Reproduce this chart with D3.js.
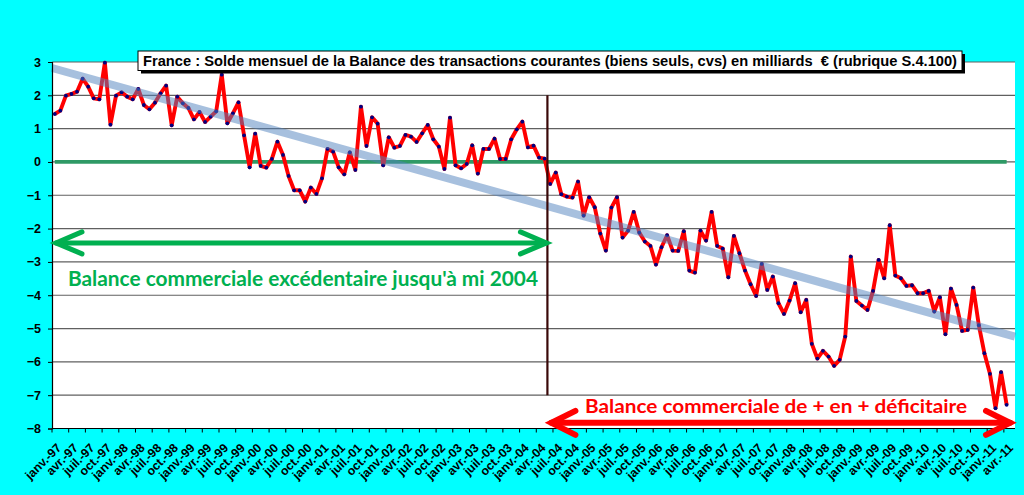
<!DOCTYPE html>
<html><head><meta charset="utf-8">
<script src="https://cdn.jsdelivr.net/npm/d3@7/dist/d3.min.js"></script>
<style>
html,body{margin:0;padding:0;background:#00ffff;}
svg{display:block;}
</style></head>
<body>
<svg id="c" width="1024" height="495"></svg>
<script>
// ---------- DATA ----------
const monthNames = ["janv.","févr.","mars","avr.","mai","juin","juil.","août","sept.","oct.","nov.","déc."];
const startYear = 1997;
const axisMonthCount = 173; // janv.-97 .. mai-11 on the category axis
const values = [
  1.44,1.54,1.99,2.04,2.11,2.50,2.26,1.91,1.88,2.98,1.12,1.99,
  2.09,1.96,1.88,2.19,1.71,1.58,1.78,2.06,2.29,1.10,1.96,1.76,
  1.62,1.28,1.50,1.20,1.36,1.52,2.62,1.16,1.46,1.79,0.80,-0.16,
  0.85,-0.12,-0.17,0.09,0.61,0.21,-0.42,-0.85,-0.85,-1.19,-0.77,-0.96,
  -0.49,0.39,0.31,-0.16,-0.37,0.29,-0.24,1.66,0.48,1.34,1.15,-0.10,
  0.74,0.43,0.48,0.81,0.76,0.60,0.86,1.11,0.68,0.46,-0.21,1.33,
  -0.10,-0.19,-0.06,0.50,-0.35,0.39,0.39,0.70,0.09,0.09,0.68,0.98,
  1.21,0.44,0.49,0.13,0.10,-0.66,-0.32,-0.97,-1.04,-1.07,-0.59,-1.61,
  -1.06,-1.36,-2.15,-2.66,-1.37,-1.06,-2.27,-2.06,-1.50,-2.12,-2.39,-2.52,
  -3.08,-2.56,-2.20,-2.66,-2.67,-2.08,-3.26,-3.32,-2.06,-2.36,-1.50,-2.52,
  -2.60,-3.46,-2.22,-2.74,-3.26,-3.67,-4.02,-3.06,-3.84,-3.44,-4.24,-4.56,
  -4.16,-3.64,-4.51,-4.14,-5.46,-5.90,-5.67,-5.84,-6.12,-5.94,-5.24,-2.84,
  -4.17,-4.31,-4.44,-3.87,-2.94,-3.49,-1.90,-3.41,-3.49,-3.72,-3.70,-3.94,
  -3.94,-3.87,-4.49,-4.06,-5.17,-3.80,-4.29,-5.07,-5.04,-3.77,-4.90,-5.74,
  -6.36,-7.39,-6.31,-7.29
];
const yTicks = [-8,-7,-6,-5,-4,-3,-2,-1,0,1,2,3];
const trendStart = 2.82, trendEnd = -5.24; // trend line at the left / right edges of the plot
const splitMonth = "juin-04";
const splitTop = 2, splitBottom = -7;
const greenArrowValue = -2.43, redArrowValue = -7.83;
const titleText = "France : Solde mensuel de la Balance des transactions courantes (biens seuls, cvs) en milliards \u00a0€ (rubrique S.4.100)";
const greenText = "Balance commerciale excédentaire jusqu'à mi 2004";
const redText = "Balance commerciale de + en + déficitaire";

// ---------- BUILD ----------
const months = d3.range(axisMonthCount).map(i => {
  const m = i % 12, y = (startYear + Math.floor(i / 12)) % 100;
  return monthNames[m] + "-" + String(y).padStart(2, "0");
});
const data = values.map((v, i) => ({ m: months[i], v }));

const svg = d3.select("#c");
const L = 52, R = 1015, T = 62, B = 428.5;
const x = d3.scaleBand().domain(months).range([L, R]).padding(0);
const y = d3.scaleLinear().domain([-8, 3]).range([B, T]);
const cx = m => x(m) + x.bandwidth() / 2;

// plot area
svg.append("rect").attr("x", L).attr("y", T).attr("width", R - L).attr("height", B - T).attr("fill", "#fff");

// gridlines
svg.append("g").selectAll("line").data(yTicks.filter(t => t > -8)).join("line")
  .attr("x1", L).attr("x2", R).attr("y1", d => y(d)).attr("y2", d => y(d))
  .attr("stroke", "#606060").attr("stroke-width", 1.2);

// zero line
svg.append("line")
  .attr("x1", cx(months[0])).attr("x2", cx(months[values.length - 1]))
  .attr("y1", y(0)).attr("y2", y(0))
  .attr("stroke", "#2f9a66").attr("stroke-width", 3.8);

// red series
const line = d3.line().x(d => cx(d.m)).y(d => y(d.v));
svg.append("path").datum(data).attr("d", line)
  .attr("fill", "none").attr("stroke", "#ff0000").attr("stroke-width", 3.9).attr("stroke-linejoin", "round");
svg.append("g").selectAll("circle").data(data).join("circle")
  .attr("cx", d => cx(d.m)).attr("cy", d => y(d.v)).attr("r", 1.9).attr("fill", "#000080");

// trend line
svg.append("line").attr("x1", L).attr("x2", R).attr("y1", y(trendStart)).attr("y2", y(trendEnd))
  .attr("stroke", "rgba(79,129,189,0.5)").attr("stroke-width", 8);

// axes
const yAxis = d3.axisLeft(y).tickValues(yTicks).tickSize(4).tickPadding(7).tickFormat(d3.format("d"));
const gy = svg.append("g").attr("transform", `translate(${L},0)`).call(yAxis);
gy.select(".domain").attr("stroke", "#000").attr("stroke-width", 1.2);
gy.selectAll(".tick line").attr("stroke", "#000");
gy.selectAll("text").attr("font-family", "'Liberation Sans', Arial, sans-serif").attr("font-weight", "bold").attr("font-size", 12.5).attr("fill", "#000");

const tickMonths = months.filter((m, i) => i % 3 === 0);
const gx = svg.append("g").attr("transform", `translate(0,${B})`);
gx.append("line").attr("x1", L).attr("x2", R).attr("stroke", "#000").attr("stroke-width", 1.2);
gx.selectAll("line.t").data(tickMonths).join("line").attr("class", "t")
  .attr("x1", d => x(d)).attr("x2", d => x(d)).attr("y1", 0).attr("y2", 4).attr("stroke", "#000");
gx.selectAll("text").data(tickMonths).join("text")
  .attr("transform", d => `translate(${x(d) + 7},${17}) rotate(-45)`)
  .attr("text-anchor", "end").attr("dy", "0.35em")
  .attr("font-family", "'Liberation Sans', Arial, sans-serif").attr("font-weight", "bold").attr("font-size", 12.3)
  .text(d => d);

// split line
const sx = x(splitMonth);
svg.append("line").attr("x1", sx).attr("x2", sx).attr("y1", y(splitTop)).attr("y2", y(splitBottom))
  .attr("stroke", "#3a0808").attr("stroke-width", 2.2);

// arrows
function arrow(x1, x2, yy, color, w, hl, hh) {
  const g = svg.append("g").attr("stroke", color).attr("stroke-width", w).attr("stroke-linecap", "round").attr("fill", "none");
  g.append("line").attr("x1", x1).attr("x2", x2).attr("y1", yy).attr("y2", yy);
  g.append("path").attr("d", `M${x1 + hl},${yy - hh}L${x1},${yy}L${x1 + hl},${yy + hh}`).attr("stroke-linejoin", "miter");
  g.append("path").attr("d", `M${x2 - hl},${yy - hh}L${x2},${yy}L${x2 - hl},${yy + hh}`).attr("stroke-linejoin", "miter");
}
arrow(L + 4, sx - 1, y(greenArrowValue), "#00b050", 5, 26, 11);
arrow(sx + 4, R - 5, y(redArrowValue), "#ff0000", 6, 24, 12);

const fText = "Lato, 'Open Sans', sans-serif";
svg.append("text").attr("x", 68).attr("y", 286).attr("font-family", fText).attr("font-weight", "bold")
  .attr("font-size", 20.5).attr("fill", "#00b050").attr("textLength", 470).attr("lengthAdjust", "spacingAndGlyphs").text(greenText);
svg.append("text").attr("x", 585).attr("y", 412.5).attr("font-family", fText).attr("font-weight", "bold")
  .attr("font-size", 19.5).attr("fill", "#ff0000").attr("textLength", 382).attr("lengthAdjust", "spacingAndGlyphs").text(redText);

// title box
const tg = svg.append("g");
const bw = 824, bh = 19.5, bx = 138, by = 51;
tg.append("rect").attr("x", bx + 3).attr("y", by + 3).attr("width", bw).attr("height", bh).attr("fill", "#000");
tg.append("rect").attr("x", bx).attr("y", by).attr("width", bw).attr("height", bh).attr("fill", "#fff").attr("stroke", "#000").attr("stroke-width", 1);
tg.append("text").attr("x", bx + bw / 2).attr("y", 66).attr("text-anchor", "middle")
  .attr("font-family", "'Liberation Sans', Arial, sans-serif").attr("font-weight", "bold").attr("font-size", 14.3)
  .attr("textLength", 814).attr("lengthAdjust", "spacingAndGlyphs")
  .text(titleText);
</script>
</body></html>
